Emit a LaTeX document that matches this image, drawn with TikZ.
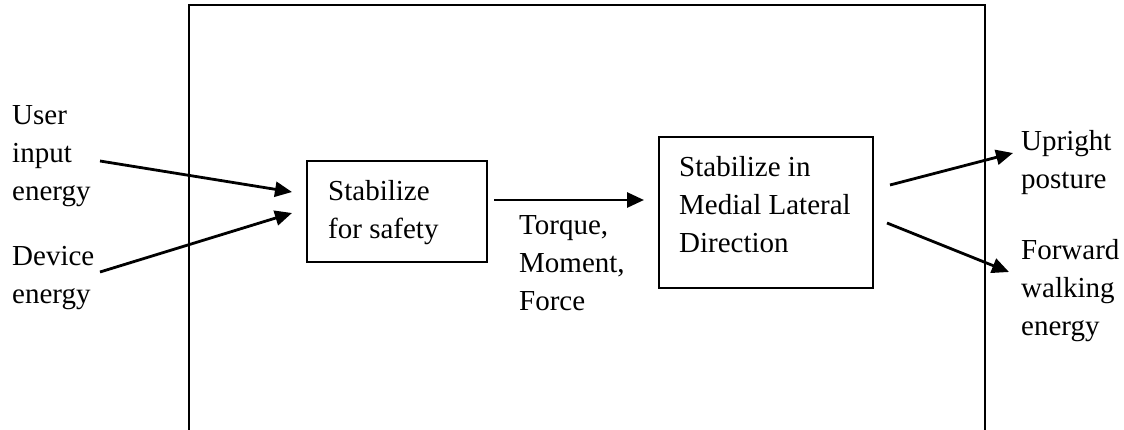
\documentclass[tikz,border=0pt]{standalone}
\usepackage{fontspec}
\setmainfont{Liberation Serif}
\usetikzlibrary{arrows.meta}
\begin{document}
\begin{tikzpicture}[x=1pt,y=-1pt,
  lbl/.style={anchor=base west, align=left, inner sep=0pt, font=\fontsize{29}{38}\selectfont},
  blk/.style={draw, line width=1.8pt, inner sep=0pt},
  flow/.style={line width=2.8pt, -{Triangle[length=17pt,width=15pt]}},
  frame/.style={line width=1.8pt}]
\useasboundingbox (0,0) rectangle (1124,429);
% system boundary (open at the bottom)
\draw[frame] (189,435) -- (189,5) -- (985,5) -- (985,435);
% blocks
\node[blk, minimum width=180pt, minimum height=101pt] (box1) at (397,211.5) {};
\node[blk, minimum width=214pt, minimum height=151pt] (box2) at (766,212.5) {};
% texts (anchored at the baseline of their last line)
\node[lbl] (user) at (12,200) {User\\input\\energy};
\node[lbl] (device) at (12,303) {Device\\energy};
\node[lbl] (t1) at (328,238) {Stabilize\\for safety};
\node[lbl] (t2) at (679,252) {Stabilize in\\Medial Lateral\\Direction};
\node[lbl] (tmf) at (519,310) {Torque,\\Moment,\\Force};
\node[lbl] (upright) at (1021,188) {Upright\\posture};
\node[lbl] (forward) at (1021,335) {Forward\\walking\\energy};
% connector end points
\coordinate (a1s) at (100,161);
\coordinate (a1e) at (292,192);
\coordinate (a2s) at (100,272);
\coordinate (a2e) at (292,213);
\coordinate (a3s) at (494,200);
\coordinate (a3e) at (644,200);
\coordinate (a4s) at (890,185);
\coordinate (a4e) at (1013,153);
\coordinate (a5s) at (887,223);
\coordinate (a5e) at (1009,272);
% connectors
\draw[flow] (a1s) -- (a1e);
\draw[flow] (a2s) -- (a2e);
\draw[flow] (a3s) -- (a3e);
\draw[flow] (a4s) -- (a4e);
\draw[flow] (a5s) -- (a5e);
\end{tikzpicture}
\end{document}
